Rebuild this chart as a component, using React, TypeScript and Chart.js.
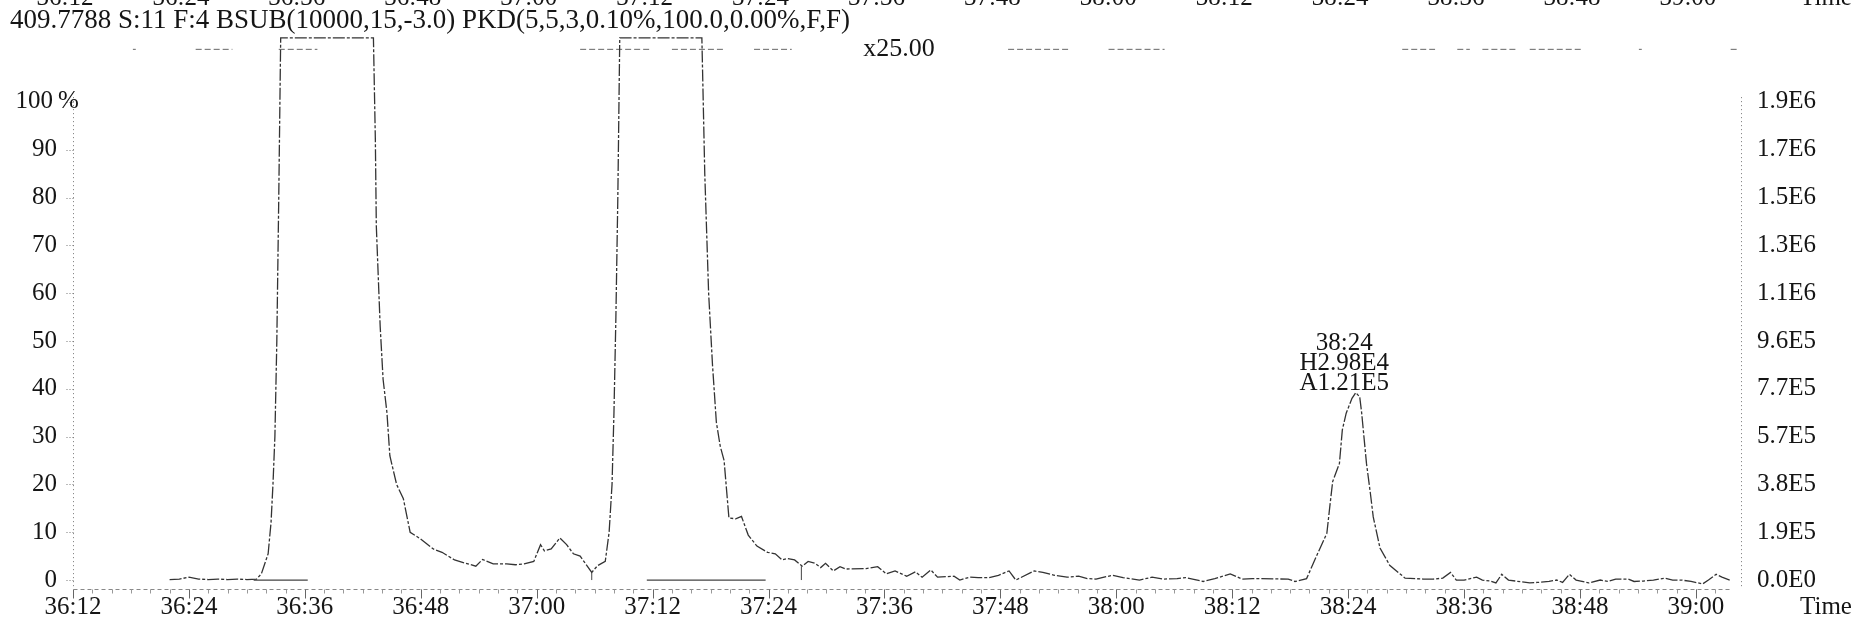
import React, { useEffect, useRef } from "react";
import { Chart, registerables } from "chart.js";
Chart.register(...registerables);

const CANVAS_W = 1867;
const CANVAS_H = 624;

const headerText = "409.7788 S:11 F:4 BSUB(10000,15,-3.0) PKD(5,5,3,0.10%,100.0,0.00%,F,F)";

// retention time, seconds after 36:00
const traceTime = [
  22.0, 23.0, 24.0, 25.0, 26.0, 27.0, 28.0, 29.0, 30.0, 31.0,
  31.5, 32.2, 32.5, 32.7, 32.9, 33.1, 33.3, 33.5, 43.1,
  43.3, 43.4, 43.8, 44.1, 44.5, 44.8, 45.5, 46.2, 46.9, 47.9, 49.3, 50.2, 51.5, 52.5, 53.7, 54.4,
  55.5, 56.9, 57.8, 58.7, 59.7, 60.4, 60.8, 61.5, 62.4, 63.1, 63.8, 64.5, 65.7, 66.3, 67.1,
  67.5, 67.8, 68.0, 68.2, 68.4, 68.6, 77.1,
  77.4, 77.8, 78.2, 78.6, 79.0, 79.4, 79.9, 80.6, 81.2, 81.9, 82.8, 83.9, 84.7, 85.4, 86.0, 86.7,
  87.5, 88.1, 88.8, 89.4, 89.9, 90.7, 91.4, 92.0, 94.1, 95.3, 96.2, 97.1, 98.3, 99.2, 99.9, 100.8,
  101.5, 103.2, 103.8, 104.8, 105.7, 106.8, 107.8, 108.9, 109.6, 111.5, 112.4, 113.6, 114.9, 116.1,
  117.0, 117.9, 119.6, 120.7, 122.4, 123.7, 124.8, 126.3, 127.2, 129.0, 130.2, 131.8, 133.0, 134.1,
  137.8, 138.5, 139.7,
  140.7, 141.8, 142.1, 142.4, 143.1, 143.4, 143.8, 144.4, 144.8, 145.2, 145.4, 145.9, 146.3, 146.6,
  147.3, 148.3, 149.9,
  151.8, 152.8, 153.8, 154.6, 155.2, 156.0, 157.3, 157.9, 158.7, 159.3, 159.9, 160.6, 162.0, 162.8,
  163.6, 164.8, 165.6, 166.2, 166.9, 167.6, 168.9, 170.1, 170.9, 171.7, 173.0, 173.6, 174.6, 175.6,
  176.8, 177.6, 178.5, 179.5, 180.7, 181.3, 182.1, 182.7, 183.5,
];

// relative intensity, %
const traceIntensity = [
  0.1, 0.2, 0.6, 0.2, 0.1, 0.2, 0.1, 0.2, 0.1, 0.2,
  1.3, 5.5, 12, 20, 30, 50, 80, 113.4, 113.4,
  92, 74, 53, 42, 35, 26, 20, 17, 10, 8.7, 6.5, 5.8, 4.2, 3.6, 2.9, 4.3,
  3.4, 3.4, 3.2, 3.4, 3.9, 7.4, 6.1, 6.5, 8.8, 7.4, 5.5, 5.0, 1.6, 3.0, 3.9,
  10, 20, 35, 55, 80, 113.4, 113.4,
  85, 60, 45, 33, 28, 25, 13, 12.8, 13.3, 9.4, 7.1, 5.8, 5.5, 4.2, 4.5, 4.2,
  2.9, 3.9, 3.5, 2.6, 3.5, 1.9, 2.8, 2.3, 2.4, 2.8, 1.3, 1.9, 0.8, 1.7, 0.6, 2.1,
  0.6, 0.8, 0, 0.6, 0.5, 0.5, 1.0, 1.9, 0, 1.9, 1.6, 1.0, 0.6, 0.8,
  0.3, 0.2, 1.0, 0.5, 0, 0.6, 0.2, 0.3, 0.5, -0.3, 0.3, 1.3, 0.2, 0.3,
  0.2, -0.3, 0.3,
  4.9, 9.8, 15.3, 20.6, 24.4, 31.4, 34.9, 38.0, 39.2, 38.3, 35, 24.4, 18.2, 13.2,
  6.7, 3.1, 0.4,
  0.2, 0.2, 0.4, 1.6, 0, 0, 0.6, 0, -0.2, -0.6, 1.2, 0, -0.4, -0.6,
  -0.5, -0.3, 0, -0.5, 1.2, 0, -0.6, 0, -0.3, 0.2, 0.2, -0.3, -0.2, 0,
  0.4, 0, 0, -0.3, -0.8, 0, 1.2, 0.6, 0,
];

const tickSeconds = [12, 24, 36, 48, 60, 72, 84, 96, 108, 120, 132, 144, 156, 168, 180];
const tickLabels = ["36:12", "36:24", "36:36", "36:48", "37:00", "37:12", "37:24", "37:36", "37:48", "38:00", "38:12", "38:24", "38:36", "38:48", "39:00"];
const axisTitle = "Time";

const leftTickValues = [0, 10, 20, 30, 40, 50, 60, 70, 80, 90, 100];
const leftTickLabels = ["0", "10", "20", "30", "40", "50", "60", "70", "80", "90", "100"];
const rightTickLabels = ["0.0E0", "1.9E5", "3.8E5", "5.7E5", "7.7E5", "9.6E5", "1.1E6", "1.3E6", "1.5E6", "1.7E6", "1.9E6"];

// clipped top line (overflow level), segments in seconds after 36:00
const topLineLevel = 111;
const topLineSegments = [
  [18.2, 18.5], [24.7, 28.5], [33.3, 37.3], [64.5, 71.9], [74.0, 79.5], [82.5, 86.4],
  [108.8, 115.3], [119.2, 125.0], [149.6, 153.0], [155.3, 156.6], [157.9, 161.6],
  [162.8, 168.3], [174.1, 174.4], [183.6, 184.4],
];

const baselineSegments = [[30.7, 36.3], [71.4, 83.7]];
const markerTimes = [65.7, 87.4];
const markerHeights = [1.6, 2.9];

const magnification = "x25.00";
const magnificationTime = 97.5;

const peakLabelTime = 143.6;
const peakApex = 39.2;
const peakLabels = ["38:24", "H2.98E4", "A1.21E5"];

// layout
const PLOT_LEFT = 73;
const PLOT_RIGHT = 1741;
const PLOT_TOP = 35;
const PLOT_BOTTOM = 589.6;
const X_MIN = 12;
const X_MAX = 184.67;
const Y_MIN = -2;
const Y_MAX = 114;

const FONT = '"Liberation Serif", "Times New Roman", serif';
const INK = "#151515";

const drawPlugin = {
  id: "msDecor",
  beforeDatasetsDraw(chart: any) {
    const { ctx, scales } = chart;
    const xs = scales.x;
    const ys = scales.y;
    ctx.save();
    ctx.lineWidth = 1;
    const lx = Math.round(xs.getPixelForValue(X_MIN)) + 0.5;
    ctx.strokeStyle = "#777";
    ctx.setLineDash([1, 3]);
    ctx.beginPath();
    ctx.moveTo(lx, ys.getPixelForValue(101));
    ctx.lineTo(lx, ys.getPixelForValue(-1.5));
    ctx.stroke();
    const rx = Math.round(xs.getPixelForValue(X_MAX)) + 0.5;
    ctx.beginPath();
    ctx.moveTo(rx, ys.getPixelForValue(101));
    ctx.lineTo(rx, ys.getPixelForValue(-1.5));
    ctx.stroke();
    ctx.setLineDash([1, 2]);
    leftTickValues.forEach((v) => {
      const y = Math.round(ys.getPixelForValue(v)) + 0.5;
      ctx.beginPath();
      ctx.moveTo(lx - 7, y);
      ctx.lineTo(lx, y);
      ctx.stroke();
    });
    const ay = Math.round(ys.getPixelForValue(-1.8)) + 0.5;
    ctx.strokeStyle = "#888";
    ctx.setLineDash([4, 3]);
    ctx.beginPath();
    ctx.moveTo(lx, ay);
    ctx.lineTo(xs.getPixelForValue(183.5), ay);
    ctx.stroke();
    ctx.setLineDash([]);
    ctx.strokeStyle = "#999";
    for (let s = 14; s <= 183; s += 2) {
      const x = Math.round(xs.getPixelForValue(s)) + 0.5;
      ctx.beginPath();
      ctx.moveTo(x, ay);
      ctx.lineTo(x, ay + 4);
      ctx.stroke();
    }
    ctx.strokeStyle = "#666";
    tickSeconds.forEach((s) => {
      const x = Math.round(xs.getPixelForValue(s)) + 0.5;
      ctx.beginPath();
      ctx.moveTo(x, ay);
      ctx.lineTo(x, ay + 9);
      ctx.stroke();
    });
    ctx.restore();
  },
  afterDatasetsDraw(chart: any) {
    const { ctx, scales } = chart;
    const xs = scales.x;
    const ys = scales.y;
    ctx.save();
    ctx.fillStyle = INK;
    ctx.setLineDash([]);

    ctx.font = `25px ${FONT}`;
    ctx.textAlign = "center";
    ctx.textBaseline = "alphabetic";
    tickSeconds.forEach((s, i) => {
      ctx.fillText(tickLabels[i], xs.getPixelForValue(s) - 8, 5);
    });
    ctx.fillText(axisTitle, 1826, 5);

    ctx.font = `27px ${FONT}`;
    ctx.textAlign = "left";
    ctx.fillText(headerText, 10, 28);

    ctx.font = `25px ${FONT}`;
    ctx.textBaseline = "middle";
    leftTickValues.forEach((v, i) => {
      const y = ys.getPixelForValue(v);
      if (v === 100) {
        ctx.textAlign = "right";
        ctx.fillText(leftTickLabels[i], 53, y);
        ctx.textAlign = "left";
        ctx.fillText("%", 58, y);
      } else {
        ctx.textAlign = "right";
        ctx.fillText(leftTickLabels[i], 57, y);
      }
    });

    ctx.textAlign = "left";
    leftTickValues.forEach((v, i) => {
      ctx.fillText(rightTickLabels[i], xs.getPixelForValue(X_MAX) + 16, ys.getPixelForValue(v));
    });

    ctx.textAlign = "center";
    tickSeconds.forEach((s, i) => {
      ctx.fillText(tickLabels[i], xs.getPixelForValue(s), 607);
    });
    ctx.fillText(axisTitle, 1826, 607);

    ctx.font = `26px ${FONT}`;
    ctx.fillText(magnification, xs.getPixelForValue(magnificationTime), ys.getPixelForValue(topLineLevel));

    ctx.font = `25px ${FONT}`;
    ctx.textBaseline = "alphabetic";
    const apexY = ys.getPixelForValue(peakApex);
    const px = xs.getPixelForValue(peakLabelTime);
    peakLabels.forEach((t, i) => {
      ctx.fillText(t, px, apexY - 3 - (peakLabels.length - 1 - i) * 20);
    });
    ctx.restore();
  },
};

function segmentsToPoints(segs: number[][], level: number) {
  const pts: any[] = [];
  segs.forEach(([a, b]) => {
    pts.push({ x: a, y: level });
    pts.push({ x: b, y: level });
    pts.push({ x: b, y: null });
  });
  return pts;
}

export default function App() {
  const ref = useRef<HTMLCanvasElement | null>(null);
  useEffect(() => {
    document.body.style.margin = "0";
    document.body.style.background = "#fff";
    const canvas = ref.current;
    if (!canvas) return;
    const tracePts = traceTime.map((t, i) => ({ x: t, y: traceIntensity[i] }));
    const markerPts: any[] = [];
    markerTimes.forEach((t, i) => {
      markerPts.push({ x: t, y: 0 });
      markerPts.push({ x: t, y: markerHeights[i] });
      markerPts.push({ x: t, y: null });
    });
    const chart = new Chart(canvas, {
      type: "line",
      data: {
        datasets: [
          {
            label: "trace",
            data: tracePts,
            borderColor: "#333",
            borderWidth: 1.3,
            borderDash: [12, 2, 3, 2],
            pointRadius: 0,
            tension: 0,
            spanGaps: true,
          },
          {
            label: "top",
            data: segmentsToPoints(topLineSegments, topLineLevel),
            borderColor: "#666",
            borderWidth: 1,
            borderDash: [6, 3],
            pointRadius: 0,
            spanGaps: false,
          },
          {
            label: "baseline",
            data: segmentsToPoints(baselineSegments, 0),
            borderColor: "#444",
            borderWidth: 1.2,
            pointRadius: 0,
            spanGaps: false,
          },
          {
            label: "markers",
            data: markerPts,
            borderColor: "#444",
            borderWidth: 1,
            pointRadius: 0,
            spanGaps: false,
          },
        ],
      },
      options: {
        responsive: false,
        animation: false,
        events: [],
        layout: {
          padding: {
            left: PLOT_LEFT,
            right: CANVAS_W - PLOT_RIGHT,
            top: PLOT_TOP,
            bottom: CANVAS_H - PLOT_BOTTOM,
          },
        },
        scales: {
          x: { type: "linear", min: X_MIN, max: X_MAX, display: false },
          y: { type: "linear", min: Y_MIN, max: Y_MAX, display: false },
        },
        plugins: { legend: { display: false }, tooltip: { enabled: false } },
      },
      plugins: [drawPlugin],
    });
    return () => chart.destroy();
  }, []);
  return (
    <div style={{ width: CANVAS_W, height: CANVAS_H, background: "#fff" }}>
      <canvas ref={ref} width={CANVAS_W} height={CANVAS_H} style={{ display: "block", width: CANVAS_W, height: CANVAS_H }} />
    </div>
  );
}
